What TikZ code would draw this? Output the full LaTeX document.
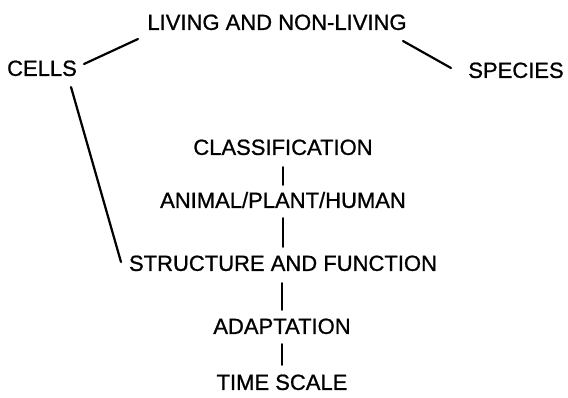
\documentclass[tikz,border=0pt]{standalone}
\usepackage{fontspec}
\setmainfont{Liberation Sans}
\newfontfamily\lblfont[FakeBold=0.9]{Liberation Sans}
\begin{document}
\begin{tikzpicture}[x=1pt,y=-1pt,
  lbl/.style={inner sep=0pt,font=\lblfont\fontsize{22}{24}\selectfont,text height=15.8pt,text depth=0pt},
  link/.style={line width=2.2pt,line cap=round}]
\useasboundingbox (0,0) rectangle (568,397);
\node[lbl] (living) at (277,22) {LIVING AND NON-LIVING};
\node[lbl] (cells) at (42,68) {CELLS};
\node[lbl] (species) at (516,70) {SPECIES};
\node[lbl] (class) at (283,147) {CLASSIFICATION};
\node[lbl] (apa) at (283,200) {ANIMAL/PLANT/HUMAN};
\node[lbl] (struct) at (283,263) {STRUCTURE AND FUNCTION};
\node[lbl] (adapt) at (282,326) {ADAPTATION};
\node[lbl] (time) at (282,382) {TIME SCALE};
\coordinate (c1) at (138,39);
\coordinate (c2) at (84,64);
\draw[link] (c1) -- (c2);
\coordinate (s1) at (403,41);
\coordinate (s2) at (451,68);
\draw[link] (s1) -- (s2);
\coordinate (t1) at (71,87);
\coordinate (t2) at (121,262);
\draw[link] (t1) -- (t2);
\draw[link] ([yshift=-12pt]class.south) -- ([yshift=7pt]apa.north);
\draw[link] ([yshift=-10pt]apa.south) -- ([yshift=8pt]struct.north);
\draw[link] ([yshift=-12pt]struct.south -| adapt.north) -- ([yshift=8pt]adapt.north);
\draw[link] ([yshift=-10pt]adapt.south) -- ([yshift=9pt]time.north);
\end{tikzpicture}
\end{document}
